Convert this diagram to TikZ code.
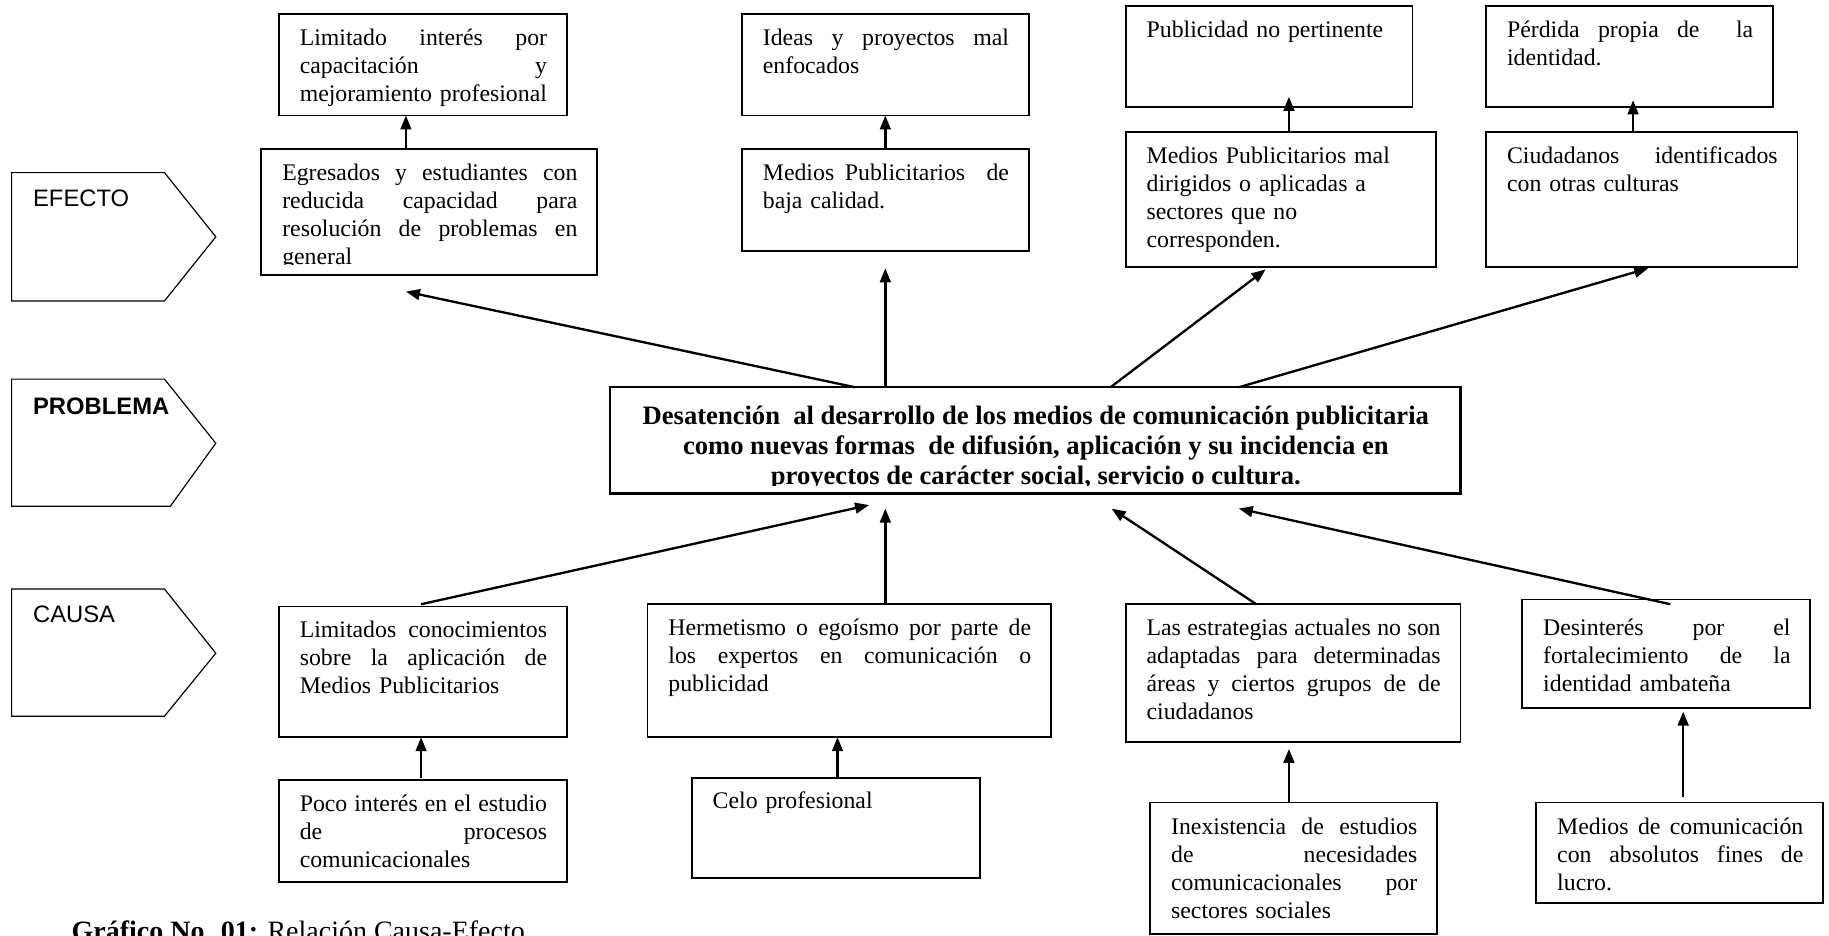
\documentclass[tikz,border=0pt]{standalone}
\usepackage{fontspec}
\setmainfont{Liberation Serif}
\setsansfont{Liberation Sans}
\usetikzlibrary{arrows.meta,calc}

\newlength\tw
\newcommand\jl[1]{\makebox[\tw][s]{\spaceskip=0pt\xspaceskip=0pt\relax #1}\\}
\newcommand\bbox[7][10]{%
  \pgfmathsetlengthmacro\bw{(#5-#3)*0.5pt}%
  \pgfmathsetlengthmacro\bh{(#6-#4)*0.5pt}%
  \pgfmathsetlength\tw{(#5-#3-35)*0.5pt}%
  \node[bx, minimum width=\bw, minimum height=\bh] (#2) at (#3,#4) {};
  \node[tx, text width=\tw] (#2t) at ($(#2.north west)+(18,#1)$) {\noindent\strut #7};
}

\begin{document}
\begin{tikzpicture}[x=0.5pt,y=-0.5pt,
  bx/.style={draw, line width=0.75pt, inner sep=0pt, outer sep=0pt, anchor=north west},
  tx/.style={inner sep=0pt, outer sep=0pt, anchor=north west, font=\fontsize{10.2}{12}\selectfont},
  arr/.style={line width=1pt, -{Triangle[length=6pt,width=4.6pt]}},
  tag/.style={draw, line width=0.5pt},
  lab/.style={inner sep=0pt, anchor=west, font=\sffamily\fontsize{10.2}{12}\selectfont},
]
\useasboundingbox (0,0) rectangle (1568,802);

% level tags
\draw[tag] (10,148) -- (141,148) -- (185,203) -- (141,258) -- (10,258) -- cycle;
\node[lab] (efecto) at (28,170) {EFECTO};
\draw[tag] (10,325) -- (141,325) -- (185,380) -- (146,434) -- (10,434) -- cycle;
\node[lab, font=\sffamily\bfseries\fontsize{10.2}{12}\selectfont] (problema) at (28,348) {PROBLEMA};
\draw[tag] (10,505) -- (141,505) -- (185,560) -- (141,614) -- (10,614) -- cycle;
\node[lab] (causa) at (28,527) {CAUSA};

% effects
\bbox{lim}{239}{12}{486}{99}{\jl{Limitado interés por}\jl{capacitación y}mejoramiento profesional}
\bbox{ide}{636}{12}{882}{99}{\jl{Ideas y proyectos mal}enfocados}
\bbox{pub}{965}{5}{1211}{92}{Publicidad no pertinente}
\bbox{per}{1274}{5}{1520}{92}{\jl{Pérdida propia de \hbox{} la}identidad.}

\node[bx, minimum width=144pt, minimum height=54pt] (egr) at (224,128) {};
\setlength\tw{126.5pt}
\begin{scope}
\clip (224,128) rectangle (512,227);
\node[tx, text width=\tw] (egrt) at ($(egr.north west)+(18,10)$) {\noindent\strut\jl{Egresados y estudiantes con}\jl{reducida capacidad para}\jl{resolución de problemas en}general};
\end{scope}
\bbox{mbc}{636}{128}{882}{215}{\jl{Medios Publicitarios \hbox{} de}baja calidad.}
\bbox{mmd}{965}{113}{1231}{229}{Medios Publicitarios mal\\dirigidos o aplicadas a\\sectores que no\\corresponden.}
\bbox{ciu}{1274}{113}{1541}{229}{\jl{Ciudadanos identificados}con otras culturas}

% problem
\node[bx, line width=1pt, minimum width=364.5pt, minimum height=45.5pt] (prob) at (523,332) {};
\begin{scope}
\clip (523,332) rectangle (1252,416);
\node[inner sep=0pt, anchor=north, align=center, font=\bfseries\fontsize{11.4}{13}\selectfont] (probt) at (888,345)
  {\strut Desatención\ \ al desarrollo de los medios de comunicación publicitaria\\como nuevas formas\ \ de difusión, aplicación y su incidencia en\\proyectos de carácter social, servicio o cultura.};
\end{scope}

% causes
\bbox{lco}{239}{520}{486}{632}{\jl{Limitados conocimientos}\jl{sobre la aplicación de}Medios Publicitarios}
\bbox{her}{555}{518}{901}{632}{\jl{Hermetismo o egoísmo por parte de}\jl{los expertos en comunicación o}publicidad}
\bbox{est}{965}{518}{1252}{636}{\jl{Las estrategias actuales no son}\jl{adaptadas para determinadas}\jl{áreas y ciertos grupos de de}ciudadanos}
\bbox[14]{des}{1305}{514}{1552}{607}{\jl{Desinterés por el}\jl{fortalecimiento de la}identidad ambateña}
\bbox{poc}{239}{669}{486}{756}{\jl{Poco interés en el estudio}\jl{de procesos}comunicacionales}
\bbox[9]{cel}{593}{667}{840}{753}{Celo profesional}
\bbox[11]{ine}{986}{688}{1232}{801}{\jl{Inexistencia de estudios}\jl{de necesidades}\jl{comunicacionales por}sectores sociales}
\bbox[11]{mco}{1317}{688}{1563}{774}{\jl{Medios de comunicación}\jl{con absolutos fines de}lucro.}

% arrows between effect rows
\draw[arr] ($(egr.north west)+(124,0)$) -- ($(lim.south west)+(109,0)$);
\draw[arr] (mbc.north) -- (ide.south);
\draw[arr] ($(mmd.north west)+(140,0)$) -- ($(pub.south west)+(140,-9)$);
\draw[arr] ($(ciu.north west)+(126,0)$) -- ($(per.south west)+(126,-6)$);

% problem to effects
\draw[arr] ($(prob.north west)+(210,0)$) -- ($(egr.south west)+(124,14)$);
\draw[arr] ($(prob.north west)+(236,0)$) -- ($(mbc.south)+(0,15)$);
\draw[arr] ($(prob.north west)+(429,0)$) -- ($(mmd.south west)+(120,2)$);
\draw[arr] ($(prob.north west)+(539,0)$) -- ($(ciu.south west)+(139,1)$);

% causes to problem
\draw[arr] ($(lco.north west)+(122,-2)$) -- ($(prob.south west)+(222,10)$);
\draw[arr] ($(her.north west)+(204,0)$) -- ($(prob.south west)+(236,13)$);
\draw[arr] ($(est.north west)+(112,0)$) -- ($(prob.south west)+(430,13)$);
\draw[arr] ($(des.north west)+(127,4)$) -- ($(prob.south west)+(539,13)$);

% lower causes
\draw[arr] ($(poc.north west)+(122,-2)$) -- ($(lco.south west)+(122,0)$);
\draw[arr] ($(cel.north west)+(125,-1)$) -- ($(her.south west)+(163,0)$);
\draw[arr] ($(ine.north west)+(119,0)$) -- ($(est.south west)+(140,6)$);
\draw[arr] ($(mco.north west)+(126,-5)$) -- ($(des.south west)+(138,3)$);

% caption
\node[inner sep=0pt, anchor=base west, font=\fontsize{12}{14}\selectfont] (cap) at (61,806)
  {\textbf{Gráfico No. 01:} Relación Causa-Efecto};
\end{tikzpicture}
\end{document}
